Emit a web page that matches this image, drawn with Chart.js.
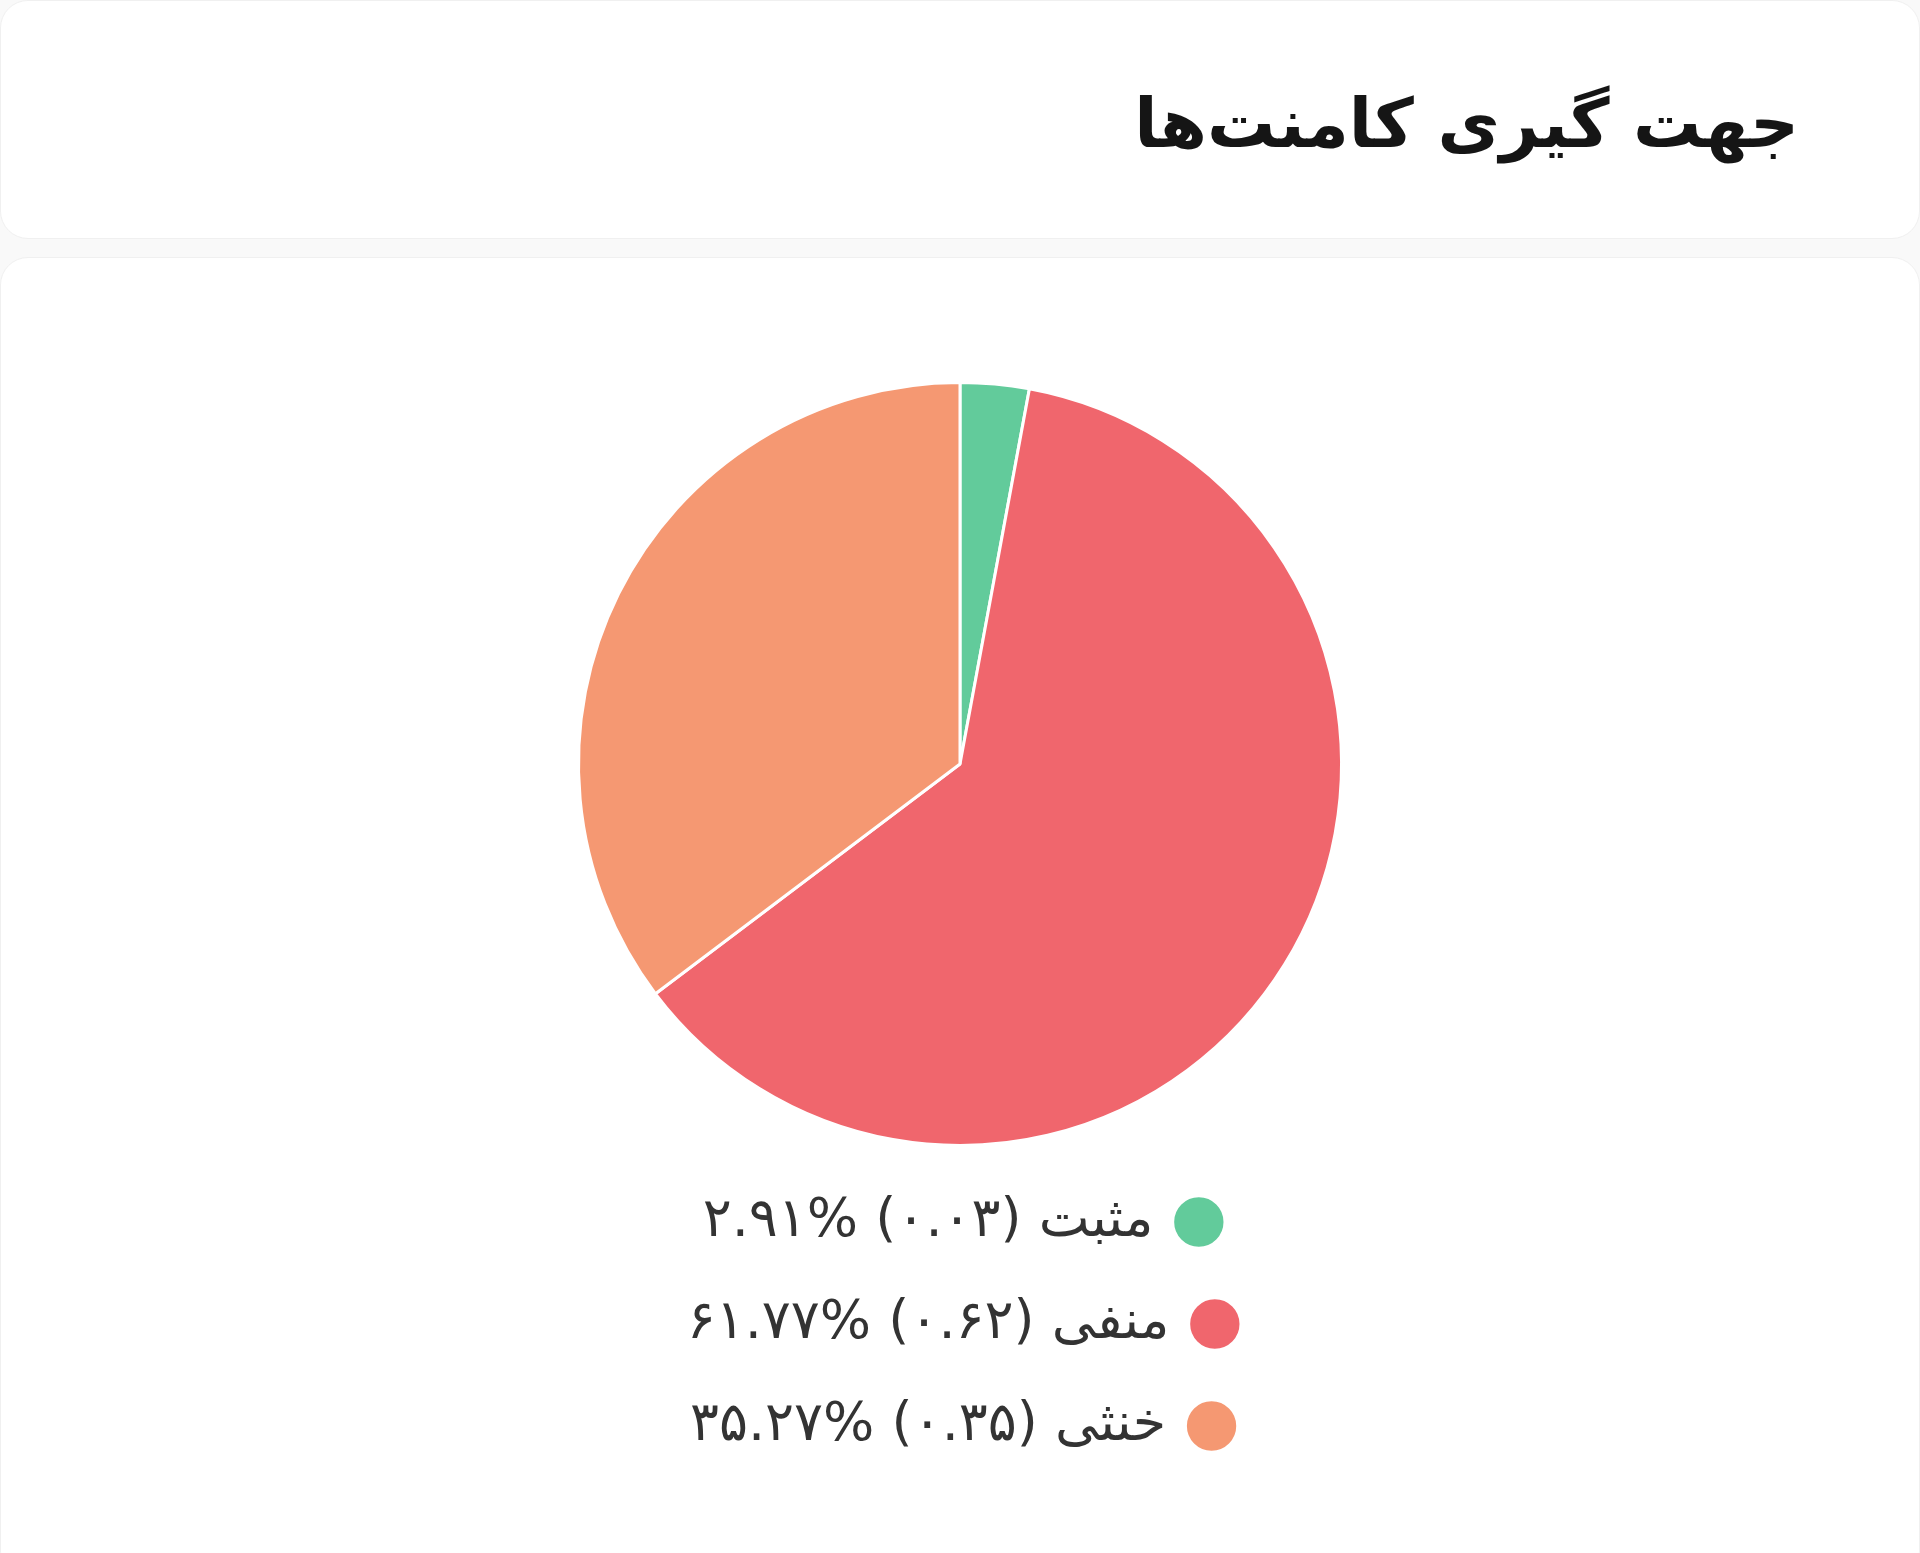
<!DOCTYPE html>
<html lang="fa" dir="rtl">
<head>
<meta charset="utf-8">
<script src="https://cdn.jsdelivr.net/npm/chart.js@4.4.0/dist/chart.umd.min.js"></script>
<style>
  html, body { margin: 0; padding: 0; }
  body { width: 1920px; height: 1553px; background: #f9f9f9; position: relative; overflow: hidden; font-family: "DejaVu Sans", sans-serif; }
  .head { position: absolute; left: 0; top: 0; width: 1918px; height: 237px; background: #fff; border: 1px solid #f0f0f0; border-radius: 28px; }
  .head h1 { position: absolute; right: 120px; top: 78px; margin: 0; font-size: 68px; line-height: 90px; font-weight: bold; color: #151515; white-space: nowrap; }
  .body { position: absolute; left: 0; top: 257px; width: 1918px; height: 1320px; background: #fff; border: 1px solid #f0f0f0; border-radius: 28px; }
  #wrap { position: absolute; left: 510px; top: 381px; width: 900px; height: 1082px; }
</style>
</head>
<body>
<div class="head"><h1>جهت گیری کامنت‌ها</h1></div>
<div class="body"></div>
<div id="wrap"><canvas id="chart"></canvas></div>
<script>
const labels = ["مثبت", "منفی", "خنثی"];
const shares = [0.03, 0.62, 0.35];
const percents = [2.91, 61.77, 35.27];
const colors = ["#62cb9b", "#f0666d", "#f59872"];

const faDigits = "۰۱۲۳۴۵۶۷۸۹";
function toFa(str) {
  return String(str).replace(/[0-9]/g, (d) => faDigits[d]);
}

// "%" goes first in logical order so it shows on the right of the number in rtl
const legendText = labels.map((name, i) =>
  name + " (" + toFa(shares[i].toFixed(2)) + ") %" + toFa(percents[i].toFixed(2))
);

const ctx = document.getElementById("chart").getContext("2d");
const myChart = new Chart(ctx, {
  type: "pie",
  data: {
    labels: legendText,
    datasets: [
      {
        data: percents,
        backgroundColor: colors,
        borderColor: "#ffffff",
        borderWidth: 3,
      },
    ],
  },
  options: {
    responsive: true,
    maintainAspectRatio: false,
    animation: false,
    layout: { padding: 0 },
    plugins: {
      tooltip: { enabled: false },
      legend: {
        position: "bottom",
        rtl: true,
        textDirection: "rtl",
        labels: {
          usePointStyle: true,
          pointStyle: "circle",
          boxWidth: 37,
          boxHeight: 37,
          padding: 48,
          color: "#333",
          font: { family: "DejaVu Sans", size: 54 },
        },
      },
    },
  },
});
</script>
</body>
</html>
